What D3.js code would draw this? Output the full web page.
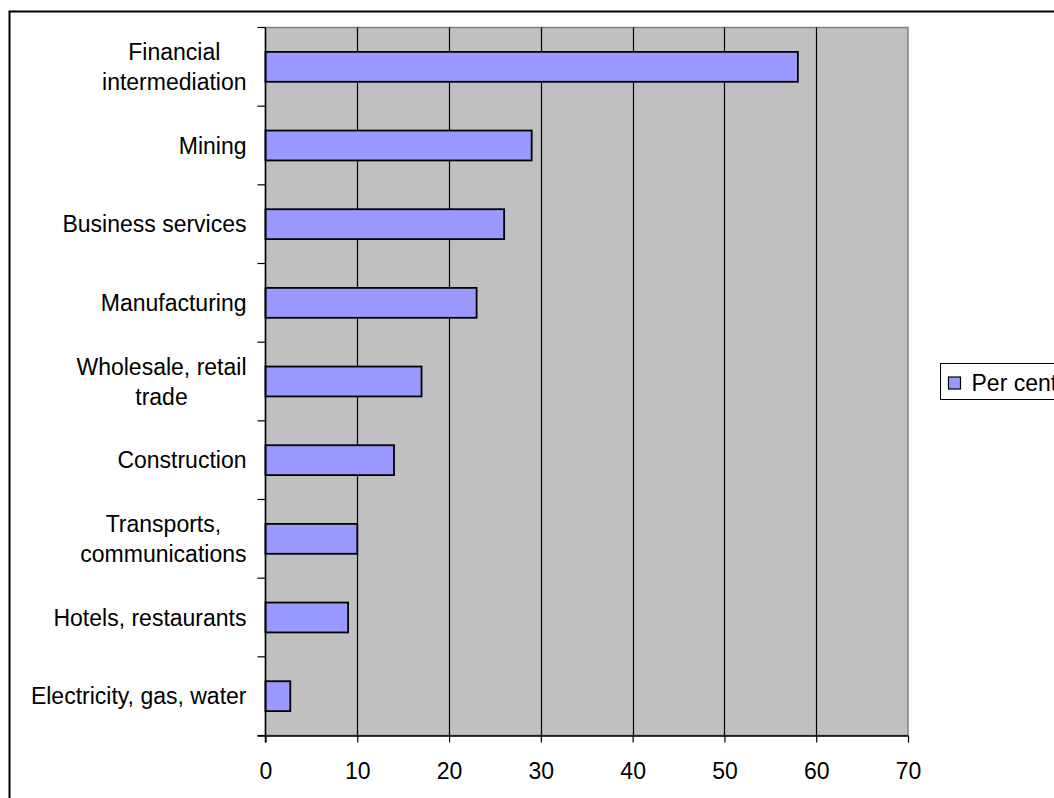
<!DOCTYPE html>
<html>
<head>
<meta charset="utf-8">
<script src="https://cdn.jsdelivr.net/npm/d3@7"></script>
<style>
  html, body { margin: 0; padding: 0; background: #ffffff; }
  svg { display: block; }
  text { font-family: "Liberation Sans", Arial, sans-serif; fill: #000; }
</style>
</head>
<body>
<svg id="chart" width="1054" height="798"></svg>
<script>
// Share by industry, per cent (top to bottom)
const categories = [
  "Financial\nintermediation",
  "Mining",
  "Business services",
  "Manufacturing",
  "Wholesale, retail\ntrade",
  "Construction",
  "Transports,\ncommunications",
  "Hotels, restaurants",
  "Electricity, gas, water"
];
const perCent = [58, 29, 26, 23, 17, 14, 10, 9, 2.7];
const xTicks = [0, 10, 20, 30, 40, 50, 60, 70];
const seriesName = "Per cent";

const svg = d3.select("#chart");
const fontSize = 23;

// Outer chart frame (runs off the right and bottom edges)
svg.append("rect")
  .attr("x", 9.5).attr("y", 11.5)
  .attr("width", 1200).attr("height", 900)
  .attr("fill", "#fff").attr("stroke", "#000").attr("stroke-width", 2);

const plot = { left: 265.5, top: 27.5, right: 908, bottom: 735.5 };

const x = d3.scaleLinear().domain([0, 70]).range([plot.left, plot.right]);
const y = d3.scaleBand().domain(categories).range([plot.top, plot.bottom]).padding(0);
const barH = y.bandwidth() * 0.38;

// Plot background
svg.append("rect")
  .attr("x", plot.left).attr("y", plot.top)
  .attr("width", plot.right - plot.left).attr("height", plot.bottom - plot.top)
  .attr("fill", "#c0c0c0").attr("stroke", "#808080").attr("stroke-width", 1.5);

// Vertical gridlines
svg.append("g").selectAll("line")
  .data(xTicks.filter(d => d > 0 && d < 70))
  .join("line")
  .attr("x1", d => Math.round(x(d)) + 0.5).attr("x2", d => Math.round(x(d)) + 0.5)
  .attr("y1", plot.top).attr("y2", plot.bottom)
  .attr("stroke", "#000").attr("stroke-width", 1.2);

// Bars
svg.append("g").selectAll("rect")
  .data(categories)
  .join("rect")
  .attr("x", x(0))
  .attr("y", d => y(d) + (y.bandwidth() - barH) / 2)
  .attr("width", (d, i) => x(perCent[i]) - x(0))
  .attr("height", barH)
  .attr("fill", "#9999ff")
  .attr("stroke", "#000")
  .attr("stroke-width", 1.8);

// Value axis (bottom)
const xAxis = svg.append("g")
  .attr("transform", `translate(0,${plot.bottom})`)
  .call(d3.axisBottom(x).tickValues(xTicks).tickSize(7).tickSizeOuter(0).tickFormat(d3.format("d")));
xAxis.select(".domain").attr("stroke", "#000").attr("stroke-width", 1.5)
  .attr("d", `M${plot.left - 8},0.5H${plot.right}`);
xAxis.selectAll(".tick line").attr("stroke", "#000").attr("stroke-width", 1.2);
xAxis.selectAll(".tick text")
  .attr("y", 43).attr("dy", 0)
  .style("font-family", "'Liberation Sans', Arial, sans-serif")
  .style("font-size", fontSize + "px")
  .attr("fill", "#000");

// Category axis (left) with ticks on band boundaries
const bounds = categories.map(c => y(c)).concat([plot.bottom]);
svg.append("line")
  .attr("x1", plot.left).attr("x2", plot.left)
  .attr("y1", plot.top).attr("y2", plot.bottom + 7)
  .attr("stroke", "#000").attr("stroke-width", 1.5);
svg.append("g").selectAll("line")
  .data(bounds)
  .join("line")
  .attr("x1", plot.left - 8).attr("x2", plot.left)
  .attr("y1", d => d).attr("y2", d => d)
  .attr("stroke", "#000").attr("stroke-width", 1.2);

// Category labels: block right-aligned, lines centred on each other
const labelRight = 246.5;
const lineGap = 29.5;
const labels = svg.append("g")
  .style("font-size", fontSize + "px");
categories.forEach(c => {
  const lines = c.split("\n");
  const cy = y(c) + y.bandwidth() / 2;
  const g = labels.append("g");
  const texts = lines.map((ln, i) =>
    g.append("text")
      .attr("y", cy + (i - (lines.length - 1) / 2) * lineGap)
      .attr("dy", "0.36em")
      .attr("text-anchor", "middle")
      .text(ln));
  const w = d3.max(texts, t => t.node().getComputedTextLength());
  texts.forEach(t => t.attr("x", labelRight - w / 2));
});

// Legend
const lg = svg.append("g");
lg.append("rect")
  .attr("x", 940.5).attr("y", 363.5).attr("width", 200).attr("height", 36)
  .attr("fill", "#fff").attr("stroke", "#000").attr("stroke-width", 1);
lg.append("rect")
  .attr("x", 948.5).attr("y", 377).attr("width", 12).attr("height", 12)
  .attr("fill", "#9999ff").attr("stroke", "#000").attr("stroke-width", 1.2);
lg.append("text")
  .attr("x", 971.5).attr("y", 383).attr("dy", "0.36em")
  .style("font-size", fontSize + "px")
  .text(seriesName);
</script>
</body>
</html>
